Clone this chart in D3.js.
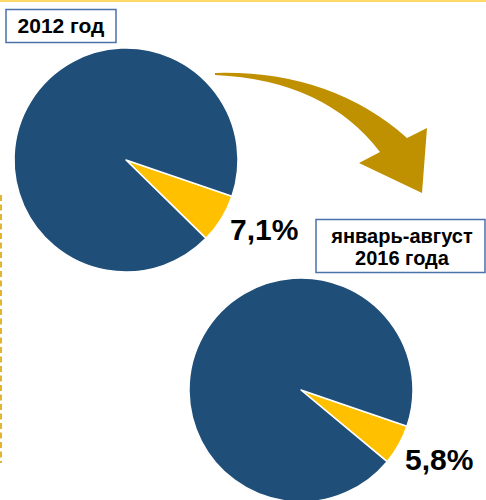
<!DOCTYPE html>
<html>
<head>
<meta charset="utf-8">
<script src="https://cdn.jsdelivr.net/npm/d3@7"></script>
<style>
  html, body { margin: 0; padding: 0; background: #fff; }
  svg { display: block; }
</style>
</head>
<body>
<div class="chart"></div>
<script>
// share of the segment in each period, percent
var periods = ["2012 год", "январь-август 2016 года"];
var shares = [7.1, 5.8];
var shareLabels = ["7,1%", "5,8%"];
var sliceColors = ["#ffc000", "#1f4e79"];

var width = 486, height = 500;
var radius = 112;
var centers = [[126, 160], [301, 390]];
var startAngle = 1.9;

var svg = d3.select(".chart")
        .append("svg")
        .attr("width", width)
        .attr("height", height);

// thin yellow line on top
svg.append("rect")
        .attr("x", 0).attr("y", 0)
        .attr("width", width).attr("height", 2)
        .attr("fill", "#ffd966");

// dashed line on the left
svg.append("line")
        .attr("x1", 1).attr("x2", 1)
        .attr("y1", 195).attr("y2", 463)
        .attr("stroke", "#e3b431")
        .attr("stroke-width", 2)
        .attr("stroke-dasharray", "6,3.5");

var pie = d3.pie()
        .sort(null)
        .value(function (d) { return d; })
        .startAngle(startAngle)
        .endAngle(startAngle + 2 * Math.PI);

var arc = d3.arc().innerRadius(0).outerRadius(radius);

shares.forEach(function (s, i) {
    var g = svg.append("g")
            .attr("transform", "translate(" + centers[i][0] + "," + centers[i][1] + ")");

    g.selectAll("path")
            .data(pie([s, 100 - s]))
            .enter()
            .append("path")
            .attr("d", arc)
            .attr("fill", function (d, j) { return sliceColors[j]; })
            .attr("stroke", "#fff")
            .attr("stroke-width", 1.5)
            .attr("stroke-linejoin", "round");

    g.append("text")
            .attr("x", 104)
            .attr("y", 80)
            .attr("font-family", "Liberation Sans, Arial, sans-serif")
            .attr("font-weight", "bold")
            .attr("font-size", 30)
            .attr("fill", "#000")
            .text(shareLabels[i]);
});

// curved arrow between the two periods
svg.append("path")
        .attr("d", "M215,73 Q330,70 407,138 L427,128 L422,193 L359,163 L380,152 Q325,80 215,75 Z")
        .attr("fill", "#bf9000");

// period boxes
svg.append("rect")
        .attr("x", 6).attr("y", 9.5)
        .attr("width", 110).attr("height", 33)
        .attr("fill", "#fff")
        .attr("stroke", "#4a72a8")
        .attr("stroke-width", 1.5);

svg.append("text")
        .attr("x", 61).attr("y", 32.5)
        .attr("text-anchor", "middle")
        .attr("font-family", "Liberation Sans, Arial, sans-serif")
        .attr("font-weight", "bold")
        .attr("font-size", 21)
        .text(periods[0]);

svg.append("rect")
        .attr("x", 316).attr("y", 219.5)
        .attr("width", 169).attr("height", 53)
        .attr("fill", "#fff")
        .attr("stroke", "#4a72a8")
        .attr("stroke-width", 1.5);

var parts = periods[1].split(" ");
var t2 = svg.append("text")
        .attr("text-anchor", "middle")
        .attr("font-family", "Liberation Sans, Arial, sans-serif")
        .attr("font-weight", "bold")
        .attr("font-size", 20);
t2.append("tspan").attr("x", 402).attr("y", 243).text(parts[0]);
t2.append("tspan").attr("x", 402).attr("y", 265).text(parts.slice(1).join(" "));
</script>
</body>
</html>
